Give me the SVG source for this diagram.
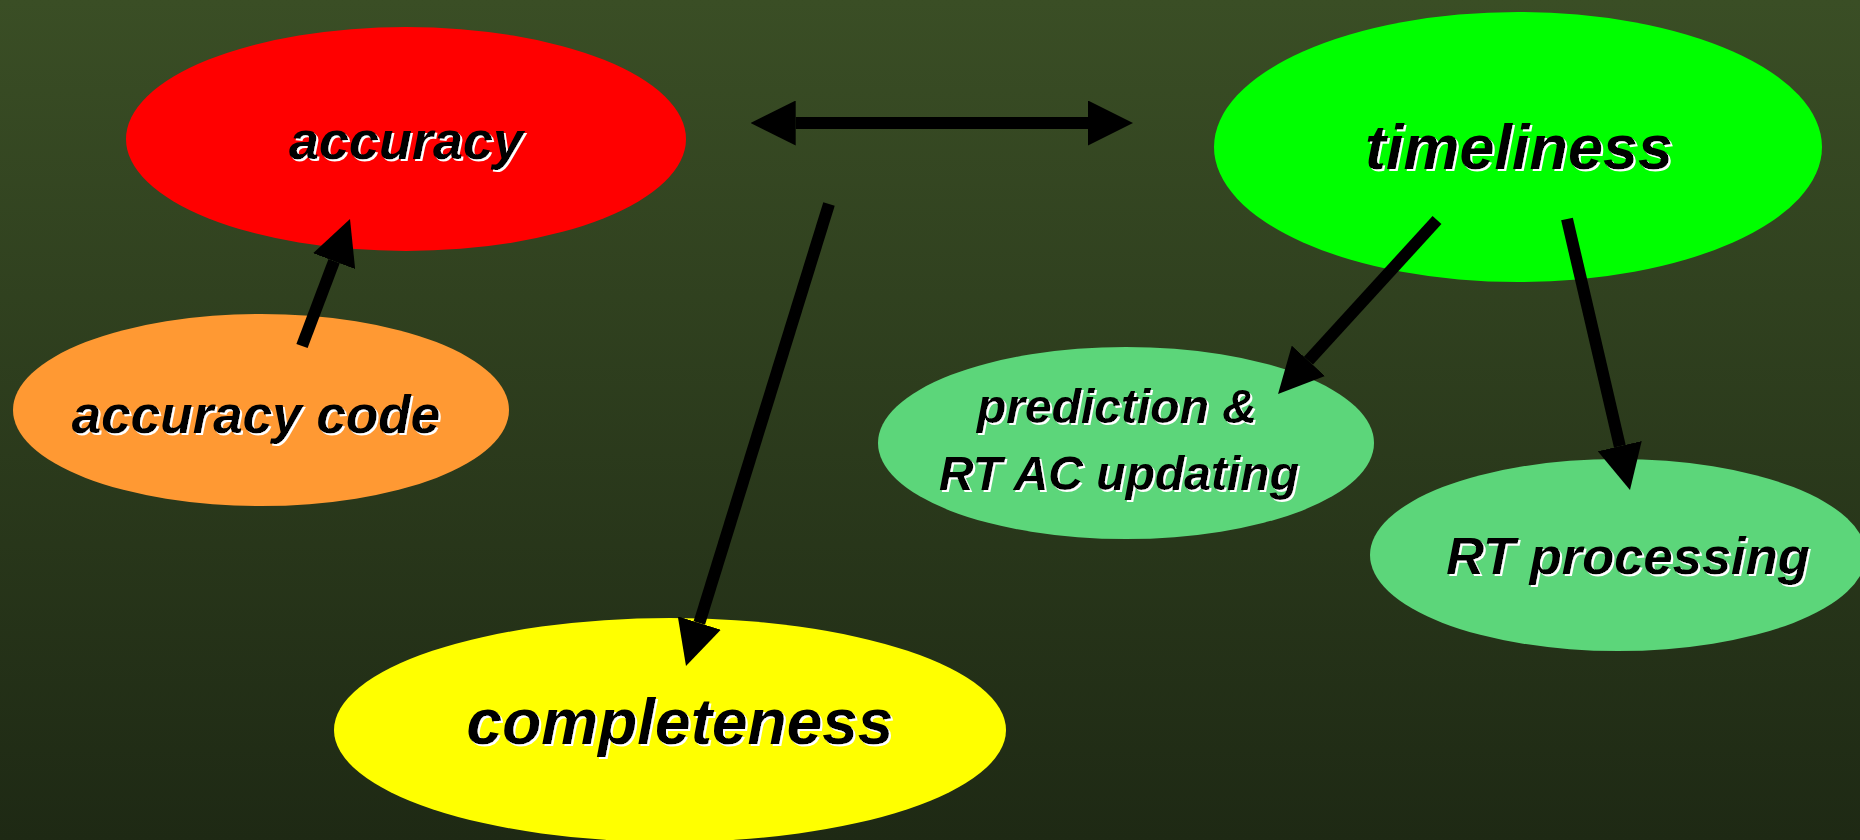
<svg xmlns="http://www.w3.org/2000/svg" width="1860" height="840" viewBox="0 0 1860 840">
  <defs>
    <linearGradient id="bg" x1="0" y1="0" x2="0" y2="1">
      <stop offset="0" stop-color="#3A4E25"/>
      <stop offset="1" stop-color="#1E2914"/>
    </linearGradient>
    <filter id="shadow" x="-10%" y="-30%" width="120%" height="160%">
      <feDropShadow dx="2" dy="2" stdDeviation="0" flood-color="#FFFFFF" flood-opacity="1"/>
    </filter>
    <marker id="head" viewBox="0 0 45 45" markerWidth="45" markerHeight="45" markerUnits="userSpaceOnUse" refX="0" refY="22.5" orient="auto-start-reverse">
      <path d="M0,0 L45,22.5 L0,45 Z" fill="#000000"/>
    </marker>
    <style>
      .lbl { font-family: "Liberation Sans", Arial, sans-serif; font-weight: bold; font-style: italic; fill: #000000; text-anchor: middle; filter: url(#shadow); }
      .conn { stroke: #000000; stroke-width: 12; fill: none; marker-end: url(#head); }
    </style>
  </defs>
  <rect x="0" y="0" width="1860" height="840" fill="url(#bg)"/>

  <g id="node-accuracy">
    <ellipse cx="406" cy="139" rx="280" ry="112" fill="#FF0000"/>
    <text class="lbl" x="406" y="159" font-size="54">accuracy</text>
  </g>
  <g id="node-timeliness">
    <ellipse cx="1518" cy="147" rx="304" ry="135" fill="#00FF00"/>
    <text class="lbl" x="1519" y="169" font-size="63">timeliness</text>
  </g>
  <g id="node-accuracy-code">
    <ellipse cx="261" cy="410" rx="248" ry="96" fill="#FF9933"/>
    <text class="lbl" x="256" y="433" font-size="53">accuracy code</text>
  </g>
  <g id="node-prediction">
    <ellipse cx="1126" cy="443" rx="248" ry="96" fill="#5CD67A"/>
    <text class="lbl" x="1117" y="423" font-size="48">prediction &amp;</text>
    <text class="lbl" x="1119" y="490" font-size="48">RT AC updating</text>
  </g>
  <g id="node-rt-processing">
    <ellipse cx="1618" cy="555" rx="248" ry="96" fill="#5CD67A"/>
    <text class="lbl" x="1628" y="574" font-size="52.5">RT processing</text>
  </g>
  <g id="node-completeness">
    <ellipse cx="670" cy="730" rx="336" ry="112" fill="#FFFF00"/>
    <text class="lbl" x="680" y="744" font-size="64">completeness</text>
  </g>

  <g id="connectors">
    <line class="conn" x1="795.7" y1="123" x2="1088" y2="123" marker-start="url(#head)"/>
    <line class="conn" x1="302" y1="346" x2="334.1" y2="261.1"/>
    <line class="conn" x1="829" y1="204" x2="699.3" y2="623"/>
    <line class="conn" x1="1437" y1="220" x2="1308.4" y2="360.8"/>
    <line class="conn" x1="1567" y1="219" x2="1619.8" y2="446.2"/>
  </g>
</svg>
